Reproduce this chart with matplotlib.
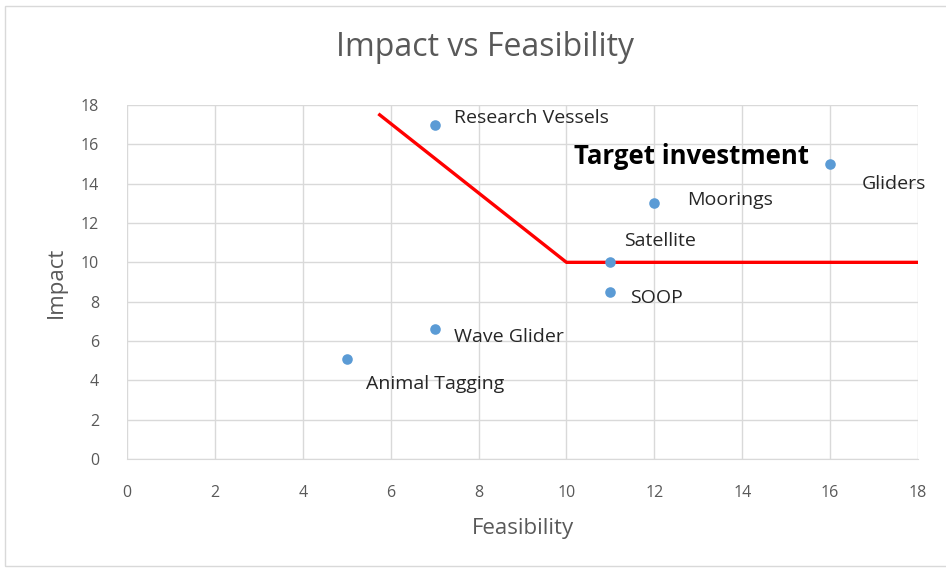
import matplotlib.pyplot as plt
from matplotlib.patches import Rectangle

# data
names = ["Research Vessels", "Gliders", "Moorings", "Satellite", "SOOP", "Wave Glider", "Animal Tagging"]
feasibility = [7, 16, 12, 11, 11, 7, 5]
impact = [17, 15, 13, 10, 8.5, 6.6, 5.1]
label_offsets = [(19, 7), (32, -20), (33, 3), (14, 21), (20, -6), (19, -8), (19, -25)]  # pixels

threshold_x = [5.75, 10, 18]
threshold_y = [17.5, 10, 10]

ticks = list(range(0, 19, 2))

plt.rcParams["font.family"] = ["Open Sans", "DejaVu Sans"]
grey = "#595959"

fig = plt.figure(figsize=(9.46, 5.72), dpi=100)
ax = fig.add_axes([127 / 946, 1 - 459 / 572, (918 - 127) / 946, (459 - 105) / 572])

# light frame around the chart area like the Excel export
fig.patches.append(Rectangle((5 / 946, 6 / 572), 1.2, 1 - 12 / 572, transform=fig.transFigure,
                             fill=False, edgecolor="#D9D9D9", linewidth=1))

ax.plot(threshold_x, threshold_y, color="#FF0000", linewidth=2.4, zorder=2)
ax.scatter(feasibility, impact, s=58, color="#5B9BD5", zorder=3, linewidths=0)

for name, x, y, off in zip(names, feasibility, impact, label_offsets):
    ax.annotate(name, (x, y), xytext=off, textcoords="offset pixels",
                ha="left", va="center", fontsize=14, color="#262626")

ax.text(10.17, 15.4, "Target investment", fontsize=18.5, fontweight="bold",
        color="black", ha="left", va="center")

ax.set_xlim(0, 18)
ax.set_ylim(0, 18)
ax.set_xticks(ticks)
ax.set_yticks(ticks)
ax.tick_params(axis="x", length=0, labelsize=11.5, labelcolor=grey, pad=19)
ax.tick_params(axis="y", length=0, labelsize=11.5, labelcolor=grey, pad=20)
ax.grid(True, color="#D9D9D9", linewidth=1)
ax.set_axisbelow(True)
for side in ["top", "right", "left"]:
    ax.spines[side].set_visible(False)
ax.spines["bottom"].set_color("#D9D9D9")

ax.set_xlabel("Feasibility", fontsize=16, color=grey, labelpad=12)
ax.set_ylabel("Impact", fontsize=16, color=grey, labelpad=10)
fig.text(485 / 946, 1 - 48 / 572, "Impact vs Feasibility", fontsize=23, color=grey,
         ha="center", va="center")

fig.savefig("out.png", dpi=100)
